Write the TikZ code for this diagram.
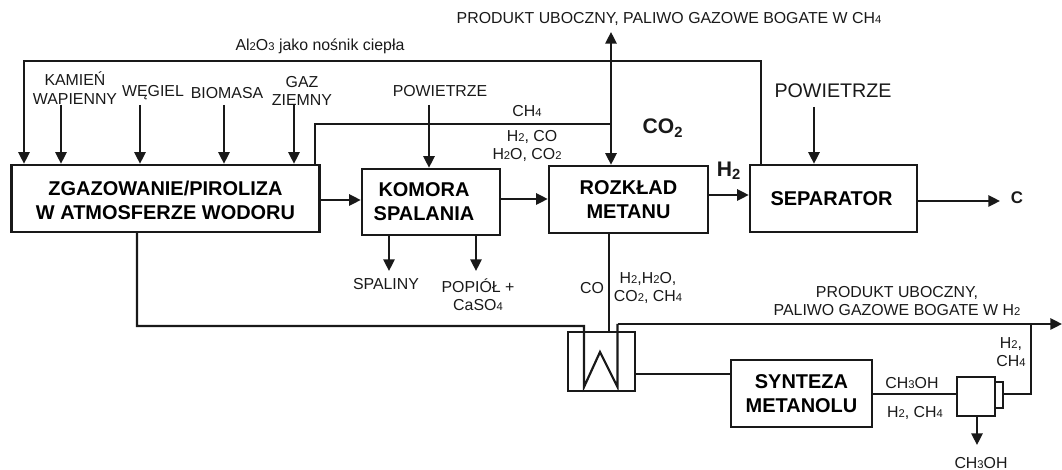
\documentclass[tikz,border=0pt]{standalone}
\usepackage{fontspec}
\setmainfont{Liberation Sans}
\usepackage{tikz}
\usetikzlibrary{arrows.meta,calc}
\newcommand{\lowd}[1]{{\fontsize{8}{8}\selectfont #1}}

\begin{document}
\begin{tikzpicture}[
      x=0.25mm,y=-0.25mm,
      >={Triangle[length=2.9mm,width=2.8mm]},
      unitbox/.style={draw=black!90,line width=0.62mm,fill=white,inner sep=0pt,align=center,
        font=\fontsize{14.2}{17}\selectfont\bfseries},
      flow/.style={->,line width=0.55mm,draw=black!90},
      pipe/.style={line width=0.55mm,draw=black!90},
      lbl/.style={inner sep=0pt,align=center,text=black!90,font=\fontsize{11.3}{13}\selectfont},
      biglbl/.style={inner sep=0pt,align=center,text=black!90,font=\fontsize{14}{17}\selectfont},
      boldlbl/.style={inner sep=0pt,text=black!90,font=\fontsize{15}{17}\selectfont\bfseries}
    ]
    \path[use as bounding box] (0,0) rectangle (1062,470);

    % process units
    \node[unitbox,minimum width=77mm,minimum height=16.75mm] (zgaz) at (165.5,198.5)
      {\rule{0pt}{4.6mm}ZGAZOWANIE/PIROLIZA\\W ATMOSFERZE WODORU};
    \node[unitbox,minimum width=34.5mm,minimum height=16.5mm] (komora) at (431,202)
      {KOMORA\hspace*{3.5mm}\\SPALANIA\hspace*{3.5mm}};
    \node[unitbox,minimum width=39.75mm,minimum height=16.75mm] (rozklad) at (628.5,199.5)
      {ROZKŁAD\\METANU};
    \node[unitbox,minimum width=41.75mm,minimum height=16.75mm] (separator) at (833.5,198.5)
      {SEPARATOR\hspace*{1mm}};
    \node[unitbox,minimum width=35.25mm,minimum height=16.75mm] (synteza) at (801.5,393.5)
      {SYNTEZA\\METANOLU};
    \node[unitbox,minimum width=16.75mm,minimum height=14.75mm] (wymiennik) at (601.5,361.5) {};
    \node[unitbox,minimum width=2mm,minimum height=6.5mm] (nub) at (999,395) {};
    \node[unitbox,minimum width=9.5mm,minimum height=9.75mm] (rozdz) at (976,396.5) {};

    % texts
    \node[lbl] (ubocznyA) at (669,19) {PRODUKT UBOCZNY, PALIWO GAZOWE BOGATE W CH\lowd{4}};
    \node[lbl] (nosnik) at (320,46) {Al\lowd{2}O\lowd{3} jako nośnik ciepła};
    \node[lbl] (kamien) at (75,88) {KAMIEŃ\\WAPIENNY};
    \node[lbl] (wegiel) at (153,93) {WĘGIEL};
    \node[lbl] (biomasa) at (227,93) {BIOMASA};
    \node[lbl] (gaz) at (302,91) {GAZ\\ZIEMNY};
    \node[lbl] (powA) at (440,91) {POWIETRZE};
    \node[lbl] (chA) at (527,111) {CH\lowd{4}};
    \node[lbl,align=left] (gazy) at (527,146) {\hspace{0.9em}H\lowd{2}, CO\\H\lowd{2}O, CO\lowd{2}};
    \node[boldlbl] (co2) at (663,128) {CO$_{\mathbf{2}}$};
    \node[boldlbl] (h2) at (729,171) {H$_{\mathbf{2}}$};
    \node[biglbl] (powB) at (833,91) {POWIETRZE};
    \node[boldlbl,font=\fontsize{12}{14}\selectfont\bfseries] (wegielC) at (1017,198) {C};
    \node[lbl] (spaliny) at (386,284) {SPALINY};
    \node[lbl] (popiol) at (478,295) {POPIÓŁ +\\CaSO\lowd{4}};
    \node[lbl] (co) at (592,288) {CO};
    \node[lbl] (skladA) at (648,288) {H\lowd{2},H\lowd{2}O,\\CO\lowd{2}, CH\lowd{4}};
    \node[lbl] (ubocznyB) at (897,301) {PRODUKT UBOCZNY,\\PALIWO GAZOWE BOGATE W H\lowd{2}};
    \node[lbl] (skladB) at (1011,352) {H\lowd{2},\\CH\lowd{4}};
    \node[lbl] (metanol) at (912,383) {CH\lowd{3}OH};
    \node[lbl] (reszta) at (915,413) {H\lowd{2}, CH\lowd{4}};
    \node[lbl] (metanolB) at (981,463) {CH\lowd{3}OH};

    % free ends and bends
    \coordinate (inKamien) at (61,105);
    \coordinate (inWegiel) at (140,105);
    \coordinate (inBiomasa) at (224,105);
    \coordinate (inGaz) at (294,105);
    \coordinate (inPowA) at (429,105);
    \coordinate (inPowB) at (814,107);
    \coordinate (alLeft) at (24,61);
    \coordinate (alRight) at (761,61);
    \coordinate (chLeft) at (315,124);
    \coordinate (chJoin) at (611,124);
    \coordinate (ubocznyTop) at (611,32);
    \coordinate (outC) at (1000,201);
    \coordinate (outSpaliny) at (389,271);
    \coordinate (outPopiol) at (476,271);
    \coordinate (outMetanol) at (977,445);
    \coordinate (outH) at (1062,324);
    \coordinate (coilIn) at (137,326);
    \coordinate (coilA) at (584,327);
    \coordinate (coilB) at (584,387);
    \coordinate (coilPeak) at (600,352);
    \coordinate (coilC) at (617.5,387);
    \coordinate (coilD) at (617.5,324);
    \coordinate (purge) at (1031,324);
    \coordinate (purgeLow) at (1031,394);
    \coordinate (hexOut) at (0,374);
    \coordinate (hexTop) at (609,0);

    % inputs
    \draw[flow] (inKamien) -- (inKamien |- zgaz.north);
    \draw[flow] (inWegiel) -- (inWegiel |- zgaz.north);
    \draw[flow] (inBiomasa) -- (inBiomasa |- zgaz.north);
    \draw[flow] (inGaz) -- (inGaz |- zgaz.north);
    \draw[flow] (inPowA) -- (inPowA |- komora.north);
    \draw[flow] (inPowB) -- (inPowB |- separator.north);

    % recycle and methane lines
    \draw[flow] (alRight |- separator.north) -- (alRight) -- (alLeft) -- (alLeft |- zgaz.north);
    \draw[pipe] (chLeft |- zgaz.north) -- (chLeft) -- (chJoin);
    \draw[flow,<->] (ubocznyTop) -- (ubocznyTop |- rozklad.north);

    % main train
    \draw[flow] (zgaz.east |- 0,200) -- (komora.west |- 0,200);
    \draw[flow] (komora.east |- 0,199) -- (rozklad.west |- 0,199);
    \draw[flow] (rozklad.east |- 0,195) -- (separator.west |- 0,195);
    \draw[flow] (separator.east |- outC) -- (outC);
    \draw[flow] (outSpaliny |- komora.south) -- (outSpaliny);
    \draw[flow] (outPopiol |- komora.south) -- (outPopiol);

    % heat exchanger
    \draw[pipe] (coilIn |- zgaz.south) -- (coilIn) -- (coilA |- coilIn) -- (coilB) -- (coilPeak) -- (coilC) -- (coilD);
    \draw[flow] (coilD) -- (outH);
    \draw[pipe] (hexTop |- rozklad.south) -- (hexTop |- wymiennik.north);
    \draw[pipe] (wymiennik.east |- hexOut) -- (synteza.west |- hexOut);
    \draw[pipe] (synteza.east |- purgeLow) -- (rozdz.west |- purgeLow);
    \draw[pipe] (nub.east |- purgeLow) -- (purgeLow) -- (purge);
    \draw[flow] (outMetanol |- rozdz.south) -- (outMetanol);
  \end{tikzpicture}
\end{document}
